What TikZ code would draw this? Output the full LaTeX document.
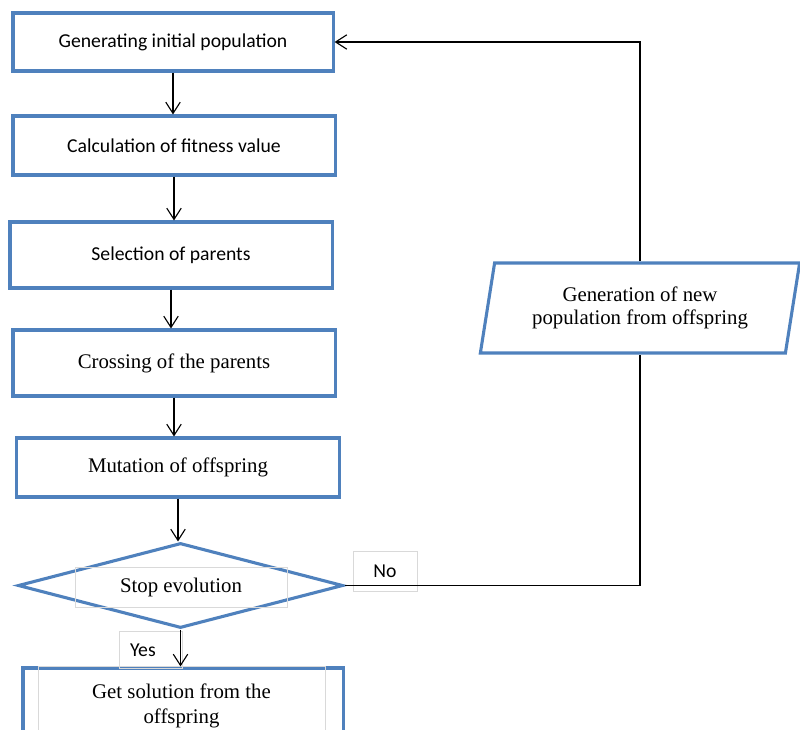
\documentclass[tikz,border=0pt]{standalone}
\usepackage{fontspec}
\setmainfont{Liberation Serif}
\newfontfamily\calfont{Carlito}
\usetikzlibrary{arrows.meta,shapes.geometric}
\definecolor{boxblue}{RGB}{79,129,189}

\begin{document}
\begin{tikzpicture}[x=0.025cm, y=-0.025cm,
	stepbox/.style={draw=boxblue, line width=2.2pt, fill=white, rectangle, inner sep=0pt, align=center},
	sanstext/.style={font=\calfont\fontsize{14}{17}\selectfont},
	seriftext/.style={font=\fontsize{14.8}{16.5}\selectfont},
	faintbox/.style={draw=black!15, line width=0.5pt, rectangle, inner sep=0pt, align=center},
	flow/.style={line width=0.8pt, -{Straight Barb[length=2.8mm,width=3.6mm]}}]
			%%%%% START %%%%%
			
			\clip (0, 0) rectangle (800, 729);
			
			\node[stepbox, sanstext, minimum width=8cm, minimum height=1.45cm] (gen) at (173, 42) {Generating initial population};
			\node[stepbox, sanstext, minimum width=8.05cm, minimum height=1.475cm] (fit) at (174, 145.5) {Calculation of fitness value};
			\node[stepbox, sanstext, minimum width=8.05cm, minimum height=1.65cm] (sel) at (171, 255) {Selection of parents};
			\node[stepbox, seriftext, minimum width=8.05cm, minimum height=1.65cm] (cross) at (174, 363) {Crossing of the parents};
			\node[stepbox, seriftext, minimum width=8.075cm, minimum height=1.475cm] (mut) at (178, 467.5) {Mutation of offspring};
			
			\node[draw=boxblue, line width=2.2pt, fill=white, diamond, inner sep=0pt, minimum width=8.125cm, minimum height=2.125cm] (dec) at (180.5, 585.5) {};
			\node[faintbox, seriftext, minimum width=5.3cm, minimum height=1cm] (stoplbl) at (181, 587) {Stop evolution};
			
			\node[stepbox, minimum width=8cm, minimum height=2cm] (sol) at (183, 708) {};
			\node[faintbox, font=\fontsize{14.8}{17.7}\selectfont, minimum width=7.175cm, minimum height=2cm] (soltxt) at (181.5, 706) {Get solution from the\\offspring};
			
			\node[draw=boxblue, line width=2.2pt, fill=white, trapezium, trapezium stretches=true, trapezium left angle=76, trapezium right angle=104, inner sep=0pt, minimum width=8cm, minimum height=2.25cm, align=center, seriftext] (newpop) at (640, 308) {Generation of new\\population from offspring};
			
			\node[faintbox, sanstext, minimum width=1.6cm, minimum height=1cm] (nolbl) at (385, 571) {No};
			\node[faintbox, sanstext, minimum width=1.575cm, minimum height=0.925cm, anchor=north west] (yeslbl) at (119, 631) {Yes\hspace*{0.4cm}};
			
			\draw[flow] (gen.south) -- (gen.south |- fit.north);
			\draw[flow] (fit.south) -- (fit.south |- sel.north);
			\draw[flow] (sel.south) -- (sel.south |- cross.north);
			\draw[flow] (cross.south) -- (cross.south |- mut.north);
			\draw[flow] (mut.south) -- (mut.south |- dec.north);
			\draw[flow] (dec.south) -- (dec.south |- sol.north);
			
			\draw[line width=0.8pt] (dec.east) -- (dec.east -| newpop.south) -- (newpop.south);
			\draw[flow] (newpop.north) |- (gen.east);
			
			%%%%% END %%%%%
\end{tikzpicture}
\end{document}
